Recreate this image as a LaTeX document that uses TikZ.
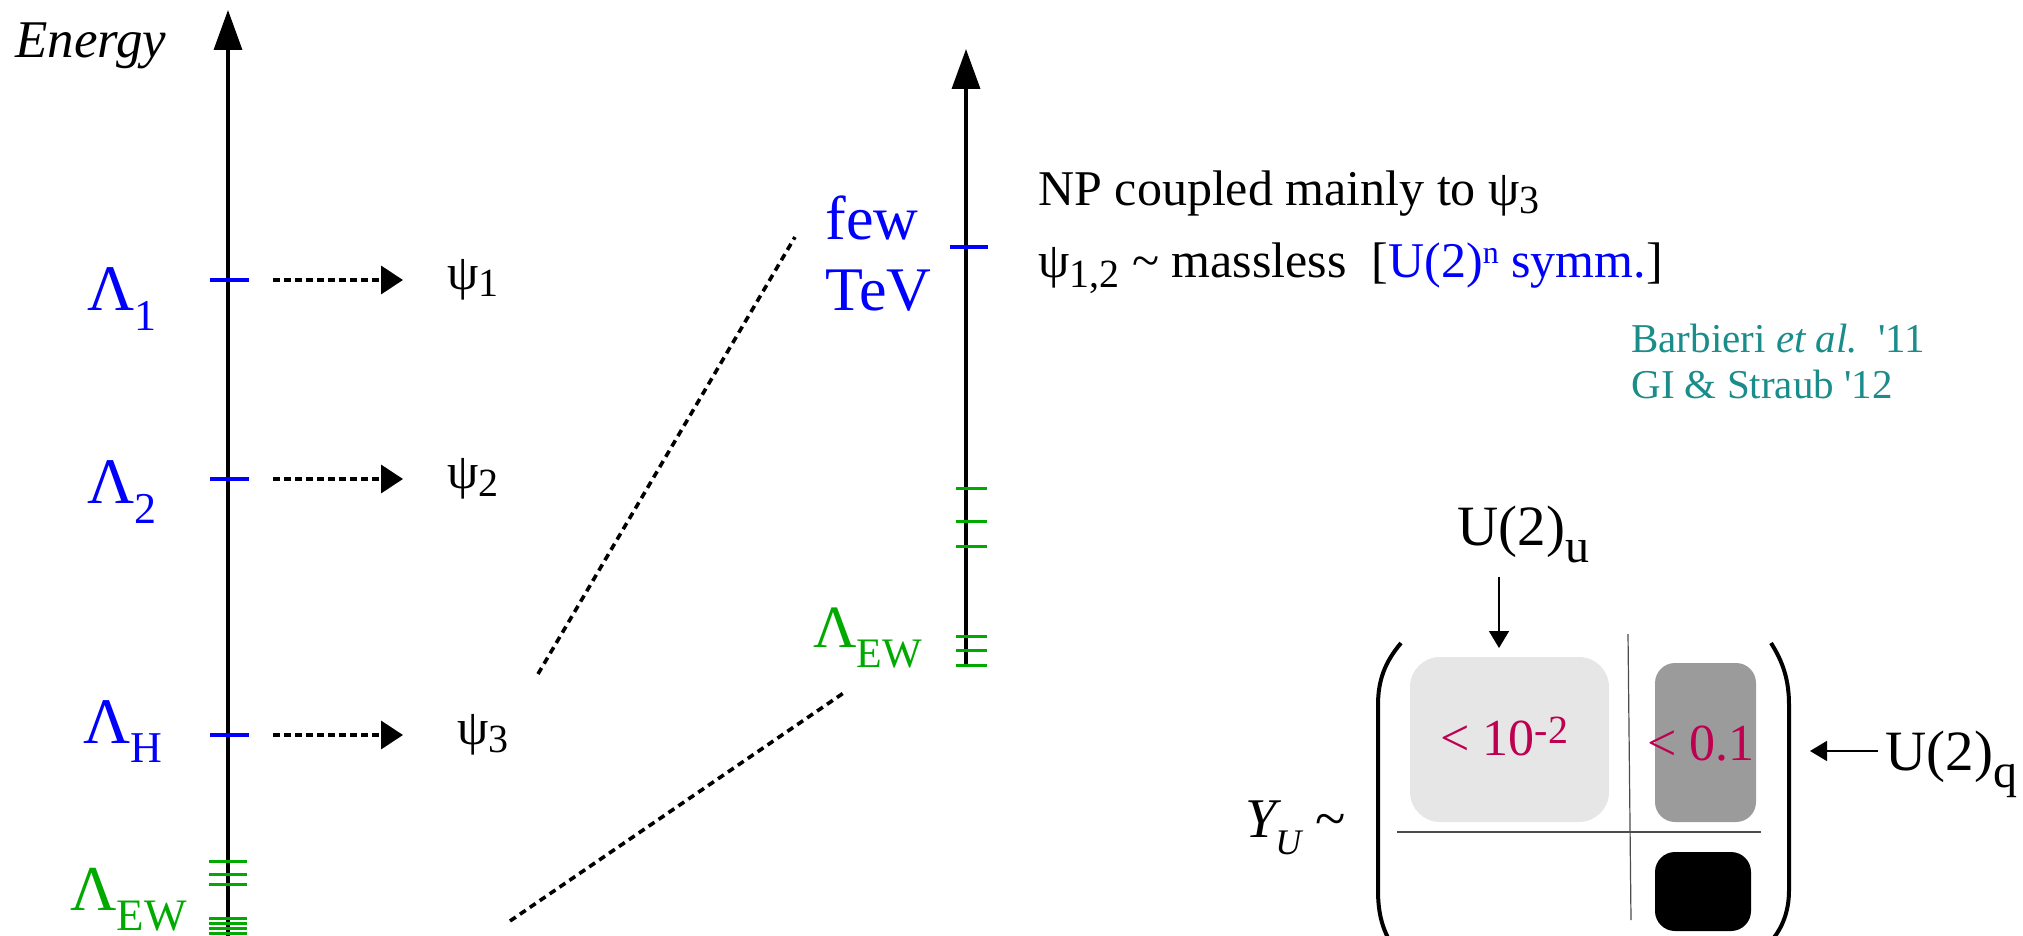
\documentclass[tikz,border=0pt]{standalone}
\usepackage{fontspec}
\setmainfont{Liberation Serif}
\usepackage{graphicx}
\usetikzlibrary{arrows.meta}
\definecolor{lblue}{RGB}{0,0,255}
\definecolor{lgreen}{RGB}{0,170,0}
\definecolor{lteal}{RGB}{26,140,138}
\definecolor{lcrim}{RGB}{190,0,80}
\definecolor{lgrayA}{RGB}{230,230,230}
\definecolor{lgrayB}{RGB}{155,155,155}
\newcommand\fsz[1]{\fontsize{#1}{#1}\selectfont}
\newcommand\lowsub[3]{\raisebox{-#1}{\fsz{#2}#3}}
\newcommand\hisup[3]{\raisebox{#1}{\fsz{#2}#3}}
\begin{document}
\begin{tikzpicture}[x=0.5pt,y=-0.5pt,
  txt/.style={inner sep=0pt, anchor=base west},
  axis/.style={line width=1.75pt, -{Triangle[length=20pt,width=14pt]}},
  bluetick/.style={draw=lblue, line width=2pt},
  greentick/.style={draw=lgreen, line width=1.5pt},
  maparrow/.style={line width=1.8pt, dash pattern=on 3.5pt off 2pt, -{Triangle[length=11pt,width=14pt]}},
  zoomline/.style={line width=1.8pt, dash pattern=on 3.5pt off 2.5pt},
  thinarrow/.style={line width=0.75pt, -{Triangle[length=8.5pt,width=10pt]}},
  paren/.style={line width=2pt},
  gridline/.style={line width=0.6pt, draw=black!70},
]
\useasboundingbox (0,0) rectangle (2023,936);

% ---------- left energy axis ----------
\coordinate (LB) at (228,936);
\coordinate (LT) at (228,10);
\draw[axis] (LB) -- (LT);
\node[txt] (energy) at (15,58) {\fsz{26.5}\itshape Energy};

\draw[bluetick] (210,280) -- (249,280);
\draw[bluetick] (210,479) -- (249,479);
\draw[bluetick] (210,735) -- (249,735);
\foreach \yy in {861,874,884,918,923,928,933}
  \draw[greentick] (209,\yy) -- (247,\yy);

\node[txt, text=lblue] (L1) at (87,310) {\fsz{32.5}Λ\lowsub{10pt}{22}{1}};
\node[txt, text=lblue] (L2) at (87,503) {\fsz{32.5}Λ\lowsub{10pt}{22}{2}};
\node[txt, text=lblue] (LH) at (83,743) {\fsz{32.5}Λ\lowsub{9.5pt}{22}{H}};
\node[txt, text=lgreen] (LEW) at (70,910) {\fsz{32}Λ\lowsub{10pt}{22.5}{EW}};

\node[txt] (psi1) at (447,289) {\fsz{25}ψ\lowsub{4pt}{20}{1}};
\node[txt] (psi2) at (447,488) {\fsz{25}ψ\lowsub{4pt}{20}{2}};
\node[txt] (psi3) at (457,744) {\fsz{25}ψ\lowsub{4pt}{20}{3}};

\coordinate (a1s) at (273,280); \coordinate (a1e) at (403,280);
\coordinate (a2s) at (273,479); \coordinate (a2e) at (403,479);
\coordinate (a3s) at (273,735); \coordinate (a3e) at (403,735);
\draw[maparrow] (a1s) -- (a1e);
\draw[maparrow] (a2s) -- (a2e);
\draw[maparrow] (a3s) -- (a3e);

% ---------- zoom lines ----------
\coordinate (z1a) at (538,674); \coordinate (z1b) at (795,237);
\coordinate (z2a) at (510,921); \coordinate (z2b) at (845,692);
\draw[zoomline] (z1a) -- (z1b);
\draw[zoomline] (z2a) -- (z2b);

% ---------- right axis ----------
\coordinate (RB) at (966,667);
\coordinate (RT) at (966,49);
\draw[axis] (RB) -- (RT);
\draw[bluetick] (950,247) -- (988,247);
\foreach \yy in {488,521,546,636,650,665}
  \draw[greentick] (956,\yy) -- (987,\yy);

\node[txt, text=lblue] (few) at (825,240) {\fsz{31}few};
\node[txt, text=lblue] (tev) at (825,310) {\fsz{31}TeV};
\node[txt, text=lgreen] (REW) at (813,647) {\fsz{30}Λ\lowsub{10pt}{21}{EW}};

% ---------- texts ----------
\node[txt] (np) at (1038,206) {\fsz{25}NP coupled mainly to ψ\lowsub{4pt}{20}{3}};
\node[txt] (ml) at (1038,278) {\fsz{25}ψ\lowsub{5pt}{20}{1,2} \textasciitilde{} massless\ \ [\textcolor{lblue}{U(2)\hisup{7pt}{16}{n} symm.}]};
\node[txt, text=lteal] (ref1) at (1631,352) {\fsz{20.5}Barbieri \textit{et al.}\ \ \textquotesingle11};
\node[txt, text=lteal] (ref2) at (1631,398) {\fsz{20.5}GI \& Straub \textquotesingle12};

% ---------- matrix ----------
\fill[lgrayA, rounded corners=15pt] (1410,657) rectangle (1609,822);
\fill[lgrayB, rounded corners=10pt] (1655,663) rectangle (1756,822);
\fill[black, rounded corners=10pt] (1655,852) rectangle (1751,931);
\draw[gridline] (1628,634) -- (1631,920);
\draw[gridline] (1397,832) -- (1761,832);

\draw[paren] (1401,643) .. controls (1385,662) and (1378,680) .. (1378,705) -- (1378,890) .. controls (1378,915) and (1383,930) .. (1392,945);
\draw[paren] (1771,643) .. controls (1783,662) and (1789,680) .. (1789,705) -- (1789,890) .. controls (1789,912) and (1782,928) .. (1772,940);

\node[txt, text=lcrim] (m11) at (1440,755) {\fsz{26}< 10\hisup{6pt}{20}{-2}};
\node[txt, text=lcrim] (m12) at (1647,760) {\fsz{26}< 0.1};

\node[txt] (Uu) at (1457,545) {\fsz{28.5}U(2)\lowsub{8.5pt}{24}{u}};
\node[txt] (Uq) at (1885,770) {\fsz{28.5}U(2)\lowsub{8.5pt}{24}{q}};
\coordinate (du1) at (1499,577); \coordinate (du2) at (1499,648);
\draw[thinarrow] (du1) -- (du2);
\coordinate (dq1) at (1878,751); \coordinate (dq2) at (1810,751);
\draw[thinarrow] (dq1) -- (dq2);

\node[txt] (Y) at (1245,837) {\fsz{28}\itshape Y};
\node[txt] (YU) at (1275,854) {\fsz{18}\itshape U};
\node[txt] (tl) at (1315,837) {\fsz{28}\textasciitilde};
\end{tikzpicture}
\end{document}
